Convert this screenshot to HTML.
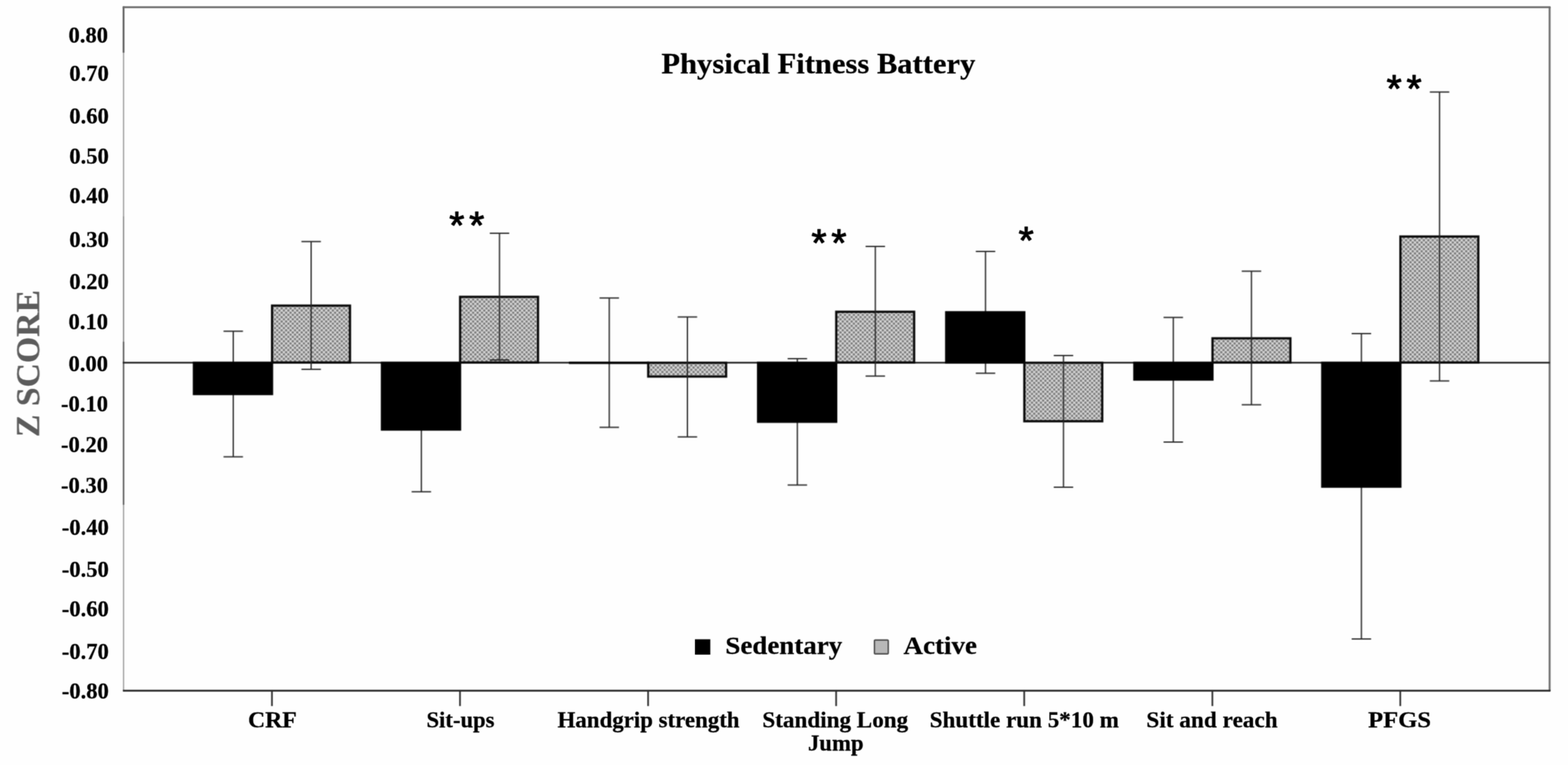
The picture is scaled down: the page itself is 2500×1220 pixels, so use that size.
<!DOCTYPE html>
<html lang="en"><head><meta charset="utf-8"><title>Physical Fitness Battery</title>
<style>html,body{margin:0;padding:0;background:#fefefe;}body{width:2500px;height:1220px;overflow:hidden;}svg{display:block;}text{font-family:'Liberation Serif', 'DejaVu Serif', serif;font-weight:bold;stroke:#000;stroke-width:0.35px;paint-order:stroke;}</style>
</head><body>
<svg width="2500" height="1220" viewBox="0 0 2500 1220">
<defs>
<pattern id="dots" width="7.1" height="7" patternUnits="userSpaceOnUse"><rect width="7.1" height="7" fill="#d5d5d5"/><circle cx="1.775" cy="1.75" r="1.9" fill="#7b7b7b"/><circle cx="5.325" cy="5.25" r="1.9" fill="#7b7b7b"/></pattern>
<filter id="f1" filterUnits="userSpaceOnUse" x="190" y="4" width="14" height="1106" color-interpolation-filters="sRGB"><feConvolveMatrix order="3" kernelMatrix="1 2 1 2 4 2 1 2 1" divisor="16" edgeMode="duplicate" preserveAlpha="false"/></filter>
<filter id="f2" filterUnits="userSpaceOnUse" x="2464" y="4" width="14" height="1106" color-interpolation-filters="sRGB"><feConvolveMatrix order="3" kernelMatrix="1 2 1 2 4 2 1 2 1" divisor="16" edgeMode="duplicate" preserveAlpha="false"/></filter>
<filter id="f3" filterUnits="userSpaceOnUse" x="190" y="4" width="2290" height="16" color-interpolation-filters="sRGB"><feConvolveMatrix order="3" kernelMatrix="1 2 1 2 4 2 1 2 1" divisor="16" edgeMode="duplicate" preserveAlpha="false"/></filter>
<filter id="f4" filterUnits="userSpaceOnUse" x="190" y="1094" width="2290" height="40" color-interpolation-filters="sRGB"><feConvolveMatrix order="3" kernelMatrix="1 2 1 2 4 2 1 2 1" divisor="16" edgeMode="duplicate" preserveAlpha="false"/></filter>
<filter id="f5" filterUnits="userSpaceOnUse" x="190" y="379.2" width="393" height="355.3" color-interpolation-filters="sRGB"><feConvolveMatrix order="3" kernelMatrix="1 2 1 2 4 2 1 2 1" divisor="16" edgeMode="duplicate" preserveAlpha="false"/></filter>
<filter id="f6" filterUnits="userSpaceOnUse" x="583" y="366" width="300" height="424.3" color-interpolation-filters="sRGB"><feConvolveMatrix order="3" kernelMatrix="1 2 1 2 4 2 1 2 1" divisor="16" edgeMode="duplicate" preserveAlpha="false"/></filter>
<filter id="f7" filterUnits="userSpaceOnUse" x="883" y="469.3" width="300" height="233.4" color-interpolation-filters="sRGB"><feConvolveMatrix order="3" kernelMatrix="1 2 1 2 4 2 1 2 1" divisor="16" edgeMode="duplicate" preserveAlpha="false"/></filter>
<filter id="f8" filterUnits="userSpaceOnUse" x="1183" y="387.1" width="300" height="392.5" color-interpolation-filters="sRGB"><feConvolveMatrix order="3" kernelMatrix="1 2 1 2 4 2 1 2 1" divisor="16" edgeMode="duplicate" preserveAlpha="false"/></filter>
<filter id="f9" filterUnits="userSpaceOnUse" x="1483" y="395" width="300" height="388.1" color-interpolation-filters="sRGB"><feConvolveMatrix order="3" kernelMatrix="1 2 1 2 4 2 1 2 1" divisor="16" edgeMode="duplicate" preserveAlpha="false"/></filter>
<filter id="f10" filterUnits="userSpaceOnUse" x="1783" y="426.6" width="300" height="284.4" color-interpolation-filters="sRGB"><feConvolveMatrix order="3" kernelMatrix="1 2 1 2 4 2 1 2 1" divisor="16" edgeMode="duplicate" preserveAlpha="false"/></filter>
<filter id="f11" filterUnits="userSpaceOnUse" x="2083" y="140.7" width="397" height="884.2" color-interpolation-filters="sRGB"><feConvolveMatrix order="3" kernelMatrix="1 2 1 2 4 2 1 2 1" divisor="16" edgeMode="duplicate" preserveAlpha="false"/></filter>
<filter id="f12" filterUnits="userSpaceOnUse" x="1100" y="1000" width="470" height="60" color-interpolation-filters="sRGB"><feConvolveMatrix order="3" kernelMatrix="1 4 1 4 16 4 1 4 1" divisor="36" edgeMode="duplicate" preserveAlpha="false"/></filter>
<filter id="f13" filterUnits="userSpaceOnUse" x="1040" y="70" width="530" height="66" color-interpolation-filters="sRGB"><feConvolveMatrix order="3" kernelMatrix="1 4 1 4 16 4 1 4 1" divisor="36" edgeMode="duplicate" preserveAlpha="false"/></filter>
<filter id="f14" filterUnits="userSpaceOnUse" x="15" y="30" width="170" height="1095" color-interpolation-filters="sRGB"><feConvolveMatrix order="3" kernelMatrix="1 4 1 4 16 4 1 4 1" divisor="36" edgeMode="duplicate" preserveAlpha="false"/></filter>
<filter id="f15" filterUnits="userSpaceOnUse" x="380" y="1127" width="1920" height="86" color-interpolation-filters="sRGB"><feConvolveMatrix order="3" kernelMatrix="1 4 1 4 16 4 1 4 1" divisor="36" edgeMode="duplicate" preserveAlpha="false"/></filter>
<filter id="f16" filterUnits="userSpaceOnUse" x="708.5" y="330" width="71.3" height="38" color-interpolation-filters="sRGB"><feConvolveMatrix order="3" kernelMatrix="1 4 1 4 16 4 1 4 1" divisor="36" edgeMode="duplicate" preserveAlpha="false"/></filter>
<filter id="f17" filterUnits="userSpaceOnUse" x="1286" y="357.6" width="72" height="38.4" color-interpolation-filters="sRGB"><feConvolveMatrix order="3" kernelMatrix="1 4 1 4 16 4 1 4 1" divisor="36" edgeMode="duplicate" preserveAlpha="false"/></filter>
<filter id="f18" filterUnits="userSpaceOnUse" x="1616.4" y="354.4" width="40" height="37.6" color-interpolation-filters="sRGB"><feConvolveMatrix order="3" kernelMatrix="1 4 1 4 16 4 1 4 1" divisor="36" edgeMode="duplicate" preserveAlpha="false"/></filter>
<filter id="f19" filterUnits="userSpaceOnUse" x="2203" y="112" width="72" height="38.5" color-interpolation-filters="sRGB"><feConvolveMatrix order="3" kernelMatrix="1 4 1 4 16 4 1 4 1" divisor="36" edgeMode="duplicate" preserveAlpha="false"/></filter>
</defs>
<rect width="2500" height="1220" fill="#fefefe"/>
<g fill="none" filter="url(#f1)">
<line x1="197" y1="10.5" x2="197" y2="84" stroke="#4c4c4c" stroke-width="2.6"/>
<line x1="197" y1="84" x2="197" y2="345" stroke="#a0a0a0" stroke-width="2"/>
<line x1="197" y1="345" x2="197" y2="545" stroke="#888" stroke-width="2"/>
<line x1="197" y1="545" x2="197" y2="805" stroke="#555" stroke-width="2.3"/>
<line x1="197" y1="805" x2="197" y2="1102" stroke="#a0a0a0" stroke-width="2"/>
</g>
<line x1="2470.7" y1="11" x2="2470.7" y2="1102" stroke="#6c6c6c" stroke-width="3" filter="url(#f2)"/>
<line x1="196" y1="11.5" x2="2472" y2="11.5" stroke="#6c6c6c" stroke-width="3" filter="url(#f3)"/>
<g fill="none" filter="url(#f4)">
<line x1="196" y1="1101.6" x2="2472" y2="1101.6" stroke="#2c2c2c" stroke-width="3"/>
<line x1="433.6" y1="1101" x2="433.6" y2="1126" stroke="#2a2a2a" stroke-width="2.6"/>
<line x1="733.4" y1="1101" x2="733.4" y2="1126" stroke="#2a2a2a" stroke-width="2.6"/>
<line x1="1033.3" y1="1101" x2="1033.3" y2="1126" stroke="#2a2a2a" stroke-width="2.6"/>
<line x1="1333.1" y1="1101" x2="1333.1" y2="1126" stroke="#2a2a2a" stroke-width="2.6"/>
<line x1="1633" y1="1101" x2="1633" y2="1126" stroke="#2a2a2a" stroke-width="2.6"/>
<line x1="1933" y1="1101" x2="1933" y2="1126" stroke="#2a2a2a" stroke-width="2.6"/>
<line x1="2232.6" y1="1101" x2="2232.6" y2="1126" stroke="#2a2a2a" stroke-width="2.6"/>
</g>
<g filter="url(#f5)">
<line x1="196" y1="578.3" x2="586" y2="578.3" stroke="#262626" stroke-width="2.8"/>
<path d="M371.9 528.2V728.5M356.4 528.2H387.4M356.4 728.5H387.4" stroke="#262626" stroke-width="2" fill="none"/>
<rect x="307.4" y="576.7" width="128.1" height="53.5" fill="#000"/>
<rect x="433.8" y="487.4" width="124.2" height="90.7" fill="url(#dots)" stroke="#0a0a0a" stroke-width="3.6"/>
<path d="M496.1 385.2V588.9M480.6 385.2H511.6M480.6 588.9H511.6" stroke="#262626" stroke-width="2" fill="none"/>
</g>
<g filter="url(#f6)">
<line x1="580" y1="578.3" x2="886" y2="578.3" stroke="#262626" stroke-width="2.8"/>
<path d="M671.8 589.3V784.3M656.3 589.3H687.3M656.3 784.3H687.3" stroke="#262626" stroke-width="2" fill="none"/>
<rect x="607.2" y="576.7" width="128.1" height="110.1" fill="#000"/>
<rect x="733.6" y="473.4" width="124.2" height="104.7" fill="url(#dots)" stroke="#0a0a0a" stroke-width="3.6"/>
<path d="M796.4 372V574M780.9 372H811.9M780.9 574H811.9" stroke="#262626" stroke-width="2" fill="none"/>
</g>
<g filter="url(#f7)">
<line x1="880" y1="578.3" x2="1186" y2="578.3" stroke="#262626" stroke-width="2.8"/>
<path d="M971.4 475.3V681.5M955.9 475.3H986.9M955.9 681.5H986.9" stroke="#262626" stroke-width="2" fill="none"/>
<rect x="907.1" y="576.7" width="128.1" height="3.8" fill="#000"/>
<rect x="1033.5" y="578.5" width="124.2" height="22" fill="url(#dots)" stroke="#0a0a0a" stroke-width="3.6"/>
<path d="M1096 505.5V696.7M1080.5 505.5H1111.5M1080.5 696.7H1111.5" stroke="#262626" stroke-width="2" fill="none"/>
</g>
<g filter="url(#f8)">
<line x1="1180" y1="578.3" x2="1486" y2="578.3" stroke="#262626" stroke-width="2.8"/>
<path d="M1271.3 572.1V773.6M1255.8 572.1H1286.8M1255.8 773.6H1286.8" stroke="#262626" stroke-width="2" fill="none"/>
<rect x="1206.9" y="576.7" width="128.1" height="97.7" fill="#000"/>
<rect x="1333.3" y="497.2" width="124.2" height="80.9" fill="url(#dots)" stroke="#0a0a0a" stroke-width="3.6"/>
<path d="M1395.6 393.1V599.7M1380.1 393.1H1411.1M1380.1 599.7H1411.1" stroke="#262626" stroke-width="2" fill="none"/>
</g>
<g filter="url(#f9)">
<line x1="1480" y1="578.3" x2="1786" y2="578.3" stroke="#262626" stroke-width="2.8"/>
<path d="M1571.3 401V595.3M1555.8 401H1586.8M1555.8 595.3H1586.8" stroke="#262626" stroke-width="2" fill="none"/>
<rect x="1506.8" y="496.2" width="128.1" height="83.7" fill="#000"/>
<rect x="1633.2" y="578.5" width="124.2" height="93.3" fill="url(#dots)" stroke="#0a0a0a" stroke-width="3.6"/>
<path d="M1695.6 567V777.1M1680.1 567H1711.1M1680.1 777.1H1711.1" stroke="#262626" stroke-width="2" fill="none"/>
</g>
<g filter="url(#f10)">
<line x1="1780" y1="578.3" x2="2086" y2="578.3" stroke="#262626" stroke-width="2.8"/>
<path d="M1870.7 506.2V705M1855.2 506.2H1886.2M1855.2 705H1886.2" stroke="#262626" stroke-width="2" fill="none"/>
<rect x="1806.8" y="576.7" width="128.1" height="30.4" fill="#000"/>
<rect x="1933.2" y="539.5" width="124.2" height="38.6" fill="url(#dots)" stroke="#0a0a0a" stroke-width="3.6"/>
<path d="M1995.3 432.6V645.6M1979.8 432.6H2010.8M1979.8 645.6H2010.8" stroke="#262626" stroke-width="2" fill="none"/>
</g>
<g filter="url(#f11)">
<line x1="2080" y1="578.3" x2="2471" y2="578.3" stroke="#262626" stroke-width="2.8"/>
<path d="M2170.6 532V1018.9M2155.1 532H2186.1M2155.1 1018.9H2186.1" stroke="#262626" stroke-width="2" fill="none"/>
<rect x="2106.4" y="576.7" width="128.1" height="201.2" fill="#000"/>
<rect x="2232.8" y="377.2" width="124.2" height="200.9" fill="url(#dots)" stroke="#0a0a0a" stroke-width="3.6"/>
<path d="M2295.2 146.7V607.4M2279.7 146.7H2310.7M2279.7 607.4H2310.7" stroke="#262626" stroke-width="2" fill="none"/>
</g>
<g filter="url(#f12)">
<rect x="1108" y="1019.5" width="24.5" height="24.5" fill="#000"/>
<rect x="1394.2" y="1020.7" width="22" height="22" fill="#b8b8b8" stroke="#555" stroke-width="2.4" rx="1.5"/>
<text x="1156.6" y="1043.4" font-size="40" text-anchor="start" textLength="186.2" lengthAdjust="spacingAndGlyphs">Sedentary</text>
<text x="1440.6" y="1043.4" font-size="40" text-anchor="start" textLength="117" lengthAdjust="spacingAndGlyphs">Active</text>
</g>
<g filter="url(#f13)">
<text x="1054.5" y="116.5" font-size="46" text-anchor="start" textLength="500.5" lengthAdjust="spacingAndGlyphs">Physical Fitness Battery</text>
</g>
<g filter="url(#f14)">
<text x="172.2" y="68" font-size="36" text-anchor="end">0.80</text>
<text x="173.6" y="129.4" font-size="36" text-anchor="end">0.70</text>
<text x="173.6" y="196.6" font-size="36" text-anchor="end">0.60</text>
<text x="173.6" y="261" font-size="36" text-anchor="end">0.50</text>
<text x="173.6" y="324.3" font-size="36" text-anchor="end">0.40</text>
<text x="173.6" y="393.9" font-size="36" text-anchor="end">0.30</text>
<text x="173.6" y="460.7" font-size="36" text-anchor="end">0.20</text>
<text x="172.2" y="525.2" font-size="36" text-anchor="end">0.10</text>
<text x="172.2" y="591.6" font-size="36" text-anchor="end">0.00</text>
<text x="172.2" y="655.6" font-size="36" text-anchor="end">-0.10</text>
<text x="172.2" y="720.7" font-size="36" text-anchor="end">-0.20</text>
<text x="172.2" y="785.9" font-size="36" text-anchor="end">-0.30</text>
<text x="173.6" y="852.7" font-size="36" text-anchor="end">-0.40</text>
<text x="173.6" y="920.1" font-size="36" text-anchor="end">-0.50</text>
<text x="173.6" y="982.8" font-size="36" text-anchor="end">-0.60</text>
<text x="173.6" y="1051.1" font-size="36" text-anchor="end">-0.70</text>
<text x="173.6" y="1113.9" font-size="36" text-anchor="end">-0.80</text>
<text transform="translate(62.3 697) rotate(-90)" font-size="53" textLength="234.5" lengthAdjust="spacingAndGlyphs" style="fill:#5c5c5c;stroke:#5c5c5c;stroke-width:0.3px">Z SCORE</text>
</g>
<g filter="url(#f15)">
<text x="395.4" y="1160.4" font-size="35" text-anchor="start" textLength="77.8" lengthAdjust="spacingAndGlyphs">CRF</text>
<text x="680" y="1160.4" font-size="35" text-anchor="start" textLength="108.4" lengthAdjust="spacingAndGlyphs">Sit-ups</text>
<text x="889" y="1160.4" font-size="35" text-anchor="start" textLength="290.1" lengthAdjust="spacingAndGlyphs">Handgrip strength</text>
<text x="1215.6" y="1160.4" font-size="35" text-anchor="start" textLength="232.4" lengthAdjust="spacingAndGlyphs">Standing Long</text>
<text x="1288.2" y="1197" font-size="35" text-anchor="start" textLength="88.6" lengthAdjust="spacingAndGlyphs">Jump</text>
<text x="1482.2" y="1160.4" font-size="35" text-anchor="start" textLength="301.8" lengthAdjust="spacingAndGlyphs">Shuttle run 5*10 m</text>
<text x="1827.8" y="1160.4" font-size="35" text-anchor="start" textLength="209.4" lengthAdjust="spacingAndGlyphs">Sit and reach</text>
<text x="2181.2" y="1160.4" font-size="35" text-anchor="start" textLength="100.4" lengthAdjust="spacingAndGlyphs">PFGS</text>
</g>
<text x="716.2" y="379.5" font-size="62" letter-spacing="7.7" style="font-family:'Liberation Sans','DejaVu Sans',sans-serif;font-weight:normal;stroke-width:1.5px;stroke-linejoin:round" filter="url(#f16)">**</text>
<text x="1293.7" y="407.5" font-size="62" letter-spacing="7.7" style="font-family:'Liberation Sans','DejaVu Sans',sans-serif;font-weight:normal;stroke-width:1.5px;stroke-linejoin:round" filter="url(#f17)">**</text>
<text x="1624.1" y="403.5" font-size="62" letter-spacing="7.7" style="font-family:'Liberation Sans','DejaVu Sans',sans-serif;font-weight:normal;stroke-width:1.5px;stroke-linejoin:round" filter="url(#f18)">*</text>
<text x="2210.7" y="162" font-size="62" letter-spacing="7.7" style="font-family:'Liberation Sans','DejaVu Sans',sans-serif;font-weight:normal;stroke-width:1.5px;stroke-linejoin:round" filter="url(#f19)">**</text>
</svg>
</body></html>
